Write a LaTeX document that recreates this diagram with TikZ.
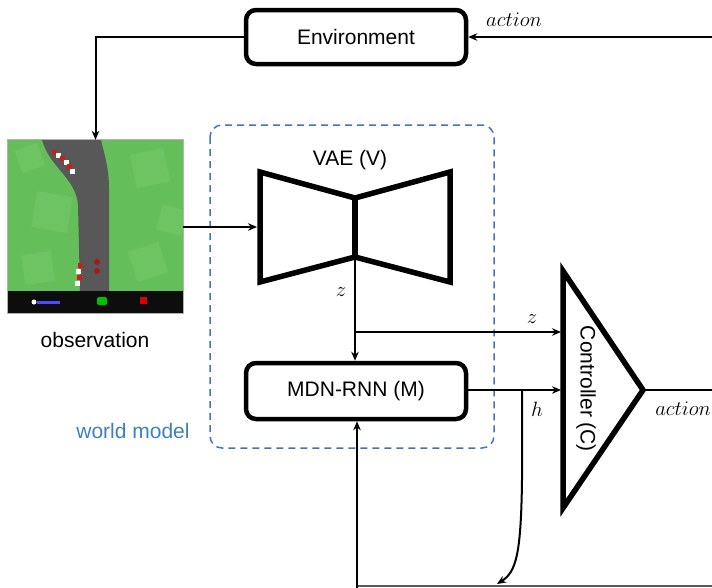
\documentclass[tikz,border=0pt]{standalone}
\usepackage{fontspec}
\setmainfont{Liberation Sans}
\usetikzlibrary{arrows.meta,calc}
\definecolor{wmblue}{RGB}{68,114,196}
\definecolor{wmtext}{RGB}{60,128,196}
\definecolor{grass}{RGB}{100,190,90}
\definecolor{grasslight}{RGB}{110,196,98}
\definecolor{road}{RGB}{88,88,88}
\definecolor{kerbred}{RGB}{200,30,30}
\begin{document}
\begin{tikzpicture}[x=1pt,y=-1pt,
  block/.style={draw,line width=4.5pt,rounded corners=10pt,minimum width=220pt,
    minimum height=54pt,inner sep=0pt,font=\fontsize{21}{24}\selectfont},
  conn/.style={line width=2pt,-{Stealth[length=9pt,width=7.5pt]}},
  wire/.style={line width=2pt},
  thickshape/.style={line width=5.5pt,line join=miter},
  lbl/.style={font=\fontsize{21}{24}\selectfont},
  sym/.style={font=\fontsize{21}{24}\selectfont},
  wmbox/.style={draw=wmblue,line width=1.5pt,dash pattern=on 7pt off 5pt,rounded corners=12pt}]
\useasboundingbox (0,0) rectangle (712,587);

% ---- world model region ----
\draw[wmbox] (210,125) rectangle (494,448);
\node[lbl,text=wmtext] (wmlabel) at (133,431) {world model};

% ---- environment ----
\node[block] (env) at (356,37) {Environment};

% ---- observation frame ----
\node[minimum width=175pt,minimum height=173pt,inner sep=0pt] (obs) at (95.5,226.5) {};
\begin{scope}
  \clip (8,140) rectangle (183,291);
  \fill[grass] (8,140) rectangle (183,291);
  \foreach \cx/\cy/\s/\r in {150/168/34/12, 52/212/36/-10, 148/262/32/18, 38/268/30/8, 172/220/26/-15, 30/158/24/20}{
    \fill[grasslight,rotate around={\r:(\cx,\cy)}] (\cx-\s/2,\cy-\s/2) rectangle (\cx+\s/2,\cy+\s/2);
  }
  \fill[road] (42,140) .. controls (50,168) and (76,178) .. (78,205)
     -- (80,291) -- (109,291) -- (109,188) .. controls (109,166) and (103,150) .. (101,140) -- cycle;
  \foreach \kx/\ky/\kc in {54/152/kerbred, 58/155/white, 62/158/kerbred, 66/162/white, 69/166/kerbred, 72/171/white,
      80/265/kerbred, 78/271/white, 79/277/kerbred, 77/283/white}{
    \fill[\kc] (\kx-2.5,\ky-2.5) rectangle (\kx+2.5,\ky+2.5);
  }
  \fill[kerbred!85!black] (97,262) circle (3);
  \fill[kerbred!85!black] (97,271) circle (3);
\end{scope}
\fill[black!95] (8,291) rectangle (183,313);
\fill[white] (34,302) circle (2.5);
\fill[blue!70!white] (37,300.5) rectangle (60,304);
\fill[green!75!black,rounded corners=1.5pt] (97,297) rectangle (107,305);
\fill[red!85!black] (140,297) rectangle (147,304);
\draw[gray!60,line width=0.8pt] (obs.north west) rectangle (obs.south east);
\node[lbl] (obslabel) at (95,340) {observation};

% ---- VAE (V) ----
\coordinate (vaeLT) at (260,172);
\coordinate (vaeLB) at (260,282);
\coordinate (vaeWT) at (355,198);
\coordinate (vaeWB) at (355,257);
\coordinate (vaeRT) at (450,172);
\coordinate (vaeRB) at (450,282);
\draw[thickshape] (vaeWT) -- (vaeLT) -- (vaeLB) -- (vaeWB) -- (vaeRB) -- (vaeRT) -- cycle;
\draw[thickshape,line cap=butt] (vaeWT) -- (vaeWB);
\node[lbl] (vaelabel) at (350,160) {VAE (V)};
\coordinate (vaein) at (257,227);

% ---- MDN-RNN (M) ----
\node[block,minimum height=56pt] (mdn) at (356,391) {MDN-RNN (M)};

% ---- Controller (C) ----
\coordinate (cT) at (563,271);
\coordinate (cB) at (563,508);
\coordinate (cA) at (643,390);
\draw[thickshape] (cT) -- (cA) -- (cB) -- cycle;
\node[lbl,rotate=-90] (ctrl) at (586,389) {Controller (C)};
\coordinate (cz) at (561,332);
\coordinate (ch) at (561,390);

% ---- connectors ----
\coordinate (actin) at (713,37);
\draw[conn] (actin) -- (env.east);
\node[sym] (actlabelA) at (514,20) {$action$};
\draw[conn] (env.west) -| (obs.north);
\draw[conn] (obs.east |- vaein) -- (vaein);

\coordinate (zsplit) at (355,332);
\draw[conn] (vaeWB) -- (mdn.north -| vaeWB);
\node[sym] (zlabelA) at (341,292) {$z$};
\draw[conn] (zsplit) -- (cz);
\node[sym] (zlabelB) at (532,319) {$z$};

\draw[conn] (mdn.east |- ch) -- (ch);
\node[sym] (hlabel) at (537,409) {$h$};
\coordinate (hsplit) at (522,390);
\coordinate (hdown) at (497,584);
\draw[conn] (hsplit) -- (522,480) .. controls (521,555) and (516,572) .. (hdown);

\coordinate (actout) at (713,390);
\draw[wire] (cA) -- (actout);
\node[sym,anchor=east,inner sep=0pt] (actlabelB) at (711,409) {$action$};

\coordinate (loopL) at (357,588);
\coordinate (loopR) at (713,586);
\draw[gray!70!black,line width=1.5pt] (357,586) -- (loopR);
\draw[conn] (loopL) -- (mdn.south -| loopL);
\end{tikzpicture}
\end{document}
